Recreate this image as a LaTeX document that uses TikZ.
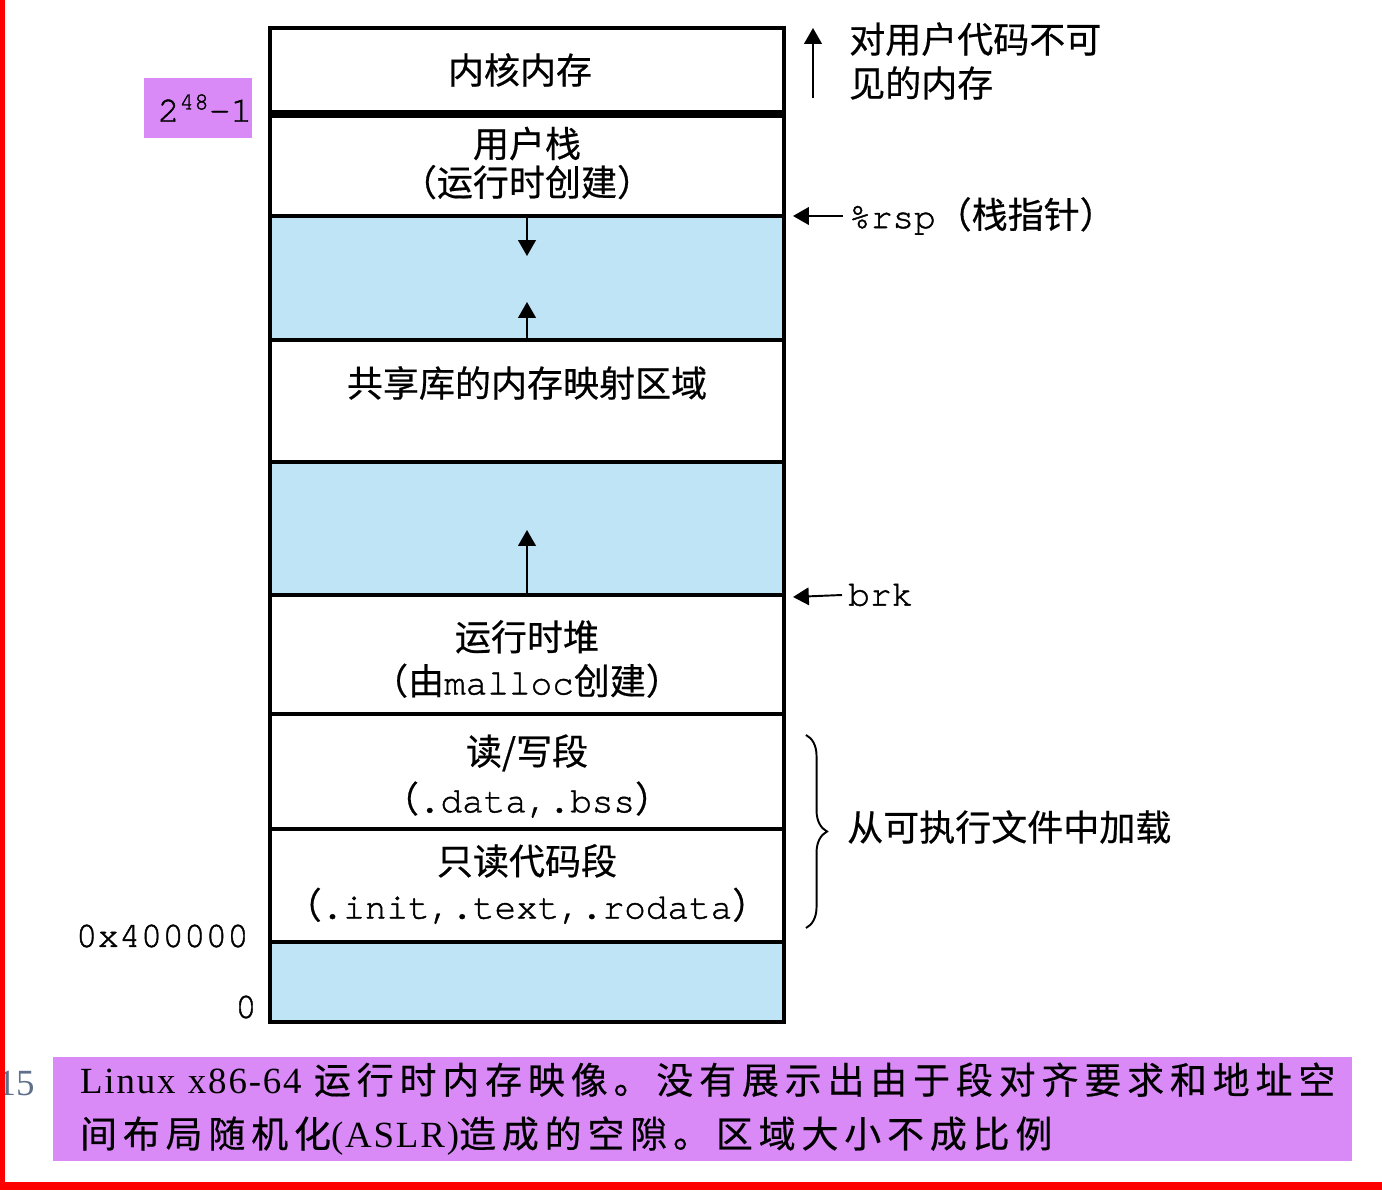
\documentclass[tikz,border=0pt]{standalone}
\usepackage{fontspec}
\setmainfont{Liberation Serif}
\setmonofont[FakeBold=1.2]{TeX Gyre Cursor}
\newfontfamily\zhfont[FakeBold=0.5]{Noto Sans CJK SC}
\newfontfamily\zhcap[LetterSpace=16,FakeBold=0.5]{Noto Sans CJK SC}
\newfontfamily\latcap[LetterSpace=5]{Liberation Serif}
\usepackage{tikz}
\usetikzlibrary{arrows.meta, positioning, decorations.pathreplacing}
\definecolor{gapblue}{RGB}{190,228,246}
\definecolor{tagviolet}{RGB}{217,138,246}
\definecolor{figgray}{RGB}{96,112,140}

\begin{document}
\begin{tikzpicture}[x=0.02cm, y=-0.02cm,
  font=\fontsize{20.5pt}{25pt}\selectfont\zhfont,
  block/.style={draw, line width=2pt, minimum width=10.28cm, inner sep=0pt},
  ptr/.style={-{Triangle[width=10pt,length=9pt]}, line width=1.1pt}]

  \useasboundingbox (0,0) rectangle (1382,1192);

  % Memory blocks, top to bottom
  \foreach \nm/\tp/\bt/\col in {kern/28/112/white, ustack/112/216/white, gapa/216/340/gapblue,
      shlib/340/462/white, gapb/462/595/gapblue, heap/595/714/white,
      rwseg/714/829/white, roseg/829/942/white, gapc/942/1022/gapblue}{
    \node[block, fill=\col, minimum height={(\bt-\tp)*0.02cm}] (\nm) at (527,{(\tp+\bt)/2}) {};
  }
  \draw[line width=4.5pt] (kern.south west) -- (kern.south east);

  % Block labels
  \node (kernlbl) at (520,70) {内核内存};
  \node[align=center] (ustacklbl) at (527,163) {用户栈\\[-3pt]（运行时创建）};
  \node (shliblbl) at (527,383) {共享库的内存映射区域};
  \node[align=center] (heaplbl) at (527,659) {运行时堆\\（由{\ttfamily malloc}创建）};
  \node[align=center] (rwlbl) at (527,776) {读/写段\\[2pt]（{\ttfamily .data,.bss}）};
  \node[align=center] (rolbl) at (527,884) {只读代码段\\（{\ttfamily .init,.text,.rodata}）};

  % Growth arrows
  \coordinate (stackdn) at (527,256);
  \coordinate (libup) at (527,302);
  \coordinate (heapup) at (527,530);
  \draw[ptr] (ustack.south) -- (stackdn);
  \draw[ptr] (shlib.north) -- (libup);
  \draw[ptr] (heap.north) -- (heapup);

  % Right side notes
  \coordinate (kernbot) at (813,98);
  \coordinate (kerntop) at (813,28);
  \draw[ptr] (kernbot) -- (kerntop);
  \node[anchor=west, align=left] (kernnote) at (843,61) {对用户代码不可\\见的内存};

  \node[anchor=west] (rsplbl) at (843,216) {{\ttfamily\%rsp}（栈指针）};
  \coordinate (rsptip) at (793,216);
  \draw[ptr] (rsplbl.west) -- (rsptip);

  \node[anchor=west] (brklbl) at (842,595) {\ttfamily brk};
  \coordinate (brktip) at (793,597);
  \draw[ptr] (brklbl.west) -- (brktip);

  \coordinate (bracetop) at (806,735);
  \coordinate (bracebot) at (806,928);
  \draw[line width=1.1pt, decorate, decoration={brace, amplitude=12pt}] (bracetop) -- (bracebot);
  \node[anchor=west] (loadlbl) at (841,827) {从可执行文件中加载};

  % Addresses
  \node[fill=tagviolet, minimum width=2.12cm, minimum height=1.22cm, inner sep=0pt,
        font=\fontsize{20.5pt}{25pt}\selectfont\ttfamily] (topaddr) at (198,108)
    {\hspace{8pt}2\raisebox{7pt}{\fontsize{14pt}{14pt}\selectfont 48}-1};
  \node[anchor=east, font=\fontsize{20.5pt}{25pt}\selectfont\ttfamily] (textaddr) at (255,936) {0x400000};
  \node[anchor=east, font=\fontsize{20.5pt}{25pt}\selectfont\ttfamily] (zeroaddr) at (263,1007) {0};

  % Caption
  \node[text=figgray, font=\fontsize{21pt}{25pt}\selectfont] (fignum) at (16,1083) {15};
  \node[fill=tagviolet, minimum width=25.98cm, minimum height=2.04cm, inner xsep=0.54cm,
        text width=24.9cm, align=left, font=\fontsize{21pt}{30.6pt}\selectfont] (capbox) at (702.5,1109)
    {{\latcap Linux x86-64} {\zhcap 运行时内存映像。没有展示出由于段对齐要求和地址空}\\
     {\zhcap 间布局随机化}{\latcap (ASLR)}{\zhcap 造成的空隙。区域大小不成比例}};

  % Red frame
  \draw[red, line width=2.8pt] (2.5,0) -- (2.5,1190);
  \draw[red, line width=5pt] (0,1186) -- (1382,1186);

\end{tikzpicture}
\end{document}
